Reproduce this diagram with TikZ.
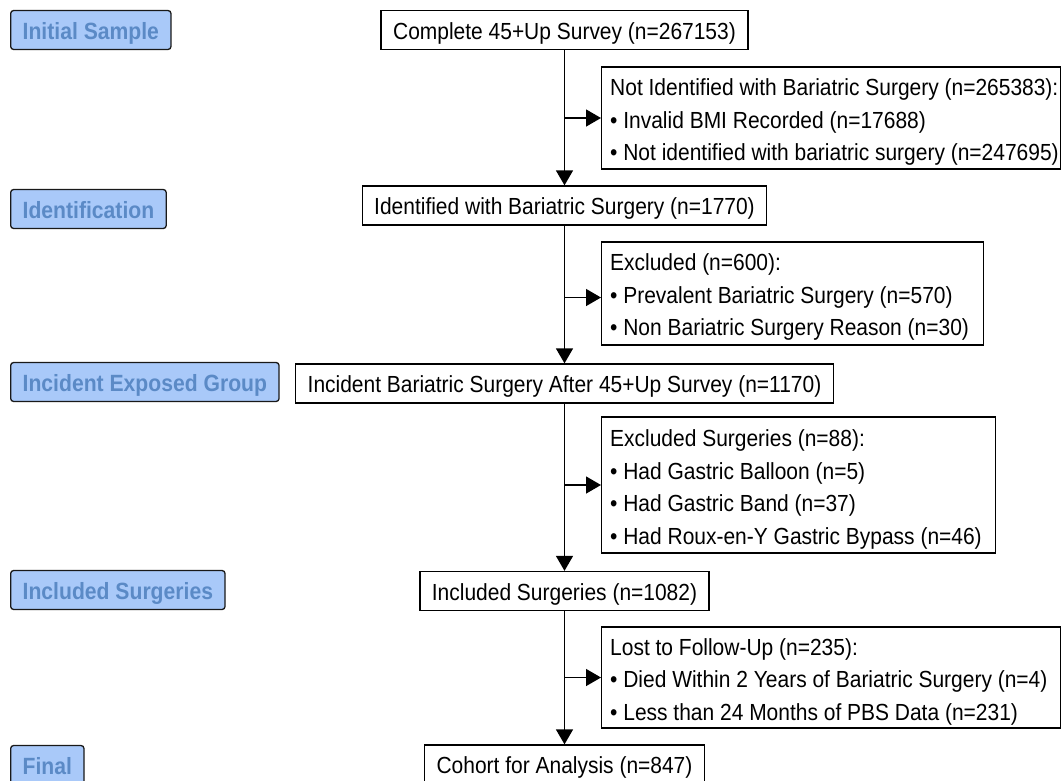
\documentclass[tikz,border=0pt]{standalone}
\usepackage{fontspec}
\setmainfont{Liberation Sans}[FakeStretch=0.9]
\usetikzlibrary{arrows.meta}
\definecolor{lblfill}{HTML}{A9C9F9}
\definecolor{lbltext}{HTML}{5B8AC6}
\tikzset{
  flow/.style={draw=black, line width=1.3pt, fill=white, font=\fontsize{23.3}{32.5}\selectfont,
    inner xsep=12pt, inner ysep=0pt, minimum height=39pt, text height=18pt, text depth=0pt},
  sidebox/.style={draw=black, line width=1.3pt, fill=white, inner sep=0pt, anchor=west},
  sidetext/.style={font=\fontsize{23.3}{32.5}\selectfont, align=left, anchor=north west, inner sep=0pt},
  stage/.style={draw=black!90, line width=1.3pt, rounded corners=3pt, fill=lblfill, text=lbltext,
    font=\bfseries\fontsize{23.5}{25}\selectfont, inner xsep=12pt, inner ysep=0pt, minimum height=39pt,
    anchor=west, text height=18pt, text depth=0pt},
  arr/.style={-{Triangle[length=15pt,width=17pt]}, line width=1.4pt}
}
\begin{document}
\begin{tikzpicture}[x=1pt,y=-1pt]
\clip (0,0) rectangle (1063,780);
\fill[white] (0,0) rectangle (1063,780);

% stage labels
\node[stage] (s1) at (10,30) {Initial Sample};
\node[stage] (s2) at (10,209) {Identification};
\node[stage] (s3) at (10,382) {Incident Exposed Group};
\node[stage] (s4) at (10,590) {Included Surgeries};
\node[stage] (s5) at (10,765) {Final};

% main flow
\node[flow, minimum width=365pt] (c1) at (564.5,30) {Complete 45+Up Survey (n=267153)};
\node[flow] (c2) at (564.5,205.5) {Identified with Bariatric Surgery (n=1770)};
\node[flow] (c3) at (564.5,383.5) {Incident Bariatric Surgery After 45+Up Survey (n=1170)};
\node[flow] (c4) at (564.5,591) {Included Surgeries (n=1082)};
\node[flow] (c5) at (564.5,764.5) {Cohort for Analysis (n=847)};

% side boxes
\node[sidebox, minimum width=459pt, minimum height=102pt] (x1) at (601,118) {};
\node[sidetext] (t1) at ([xshift=9pt,yshift=-12.5pt]x1.north west) {Not Identified with Bariatric Surgery (n=265383):\\%
• Invalid BMI Recorded (n=17688)\\• Not identified with bariatric surgery (n=247695)};

\node[sidebox, minimum width=382pt, minimum height=103pt] (x2) at (601,293.5) {};
\node[sidetext] (t2) at ([xshift=9pt,yshift=-12.5pt]x2.north west) {Excluded (n=600):\\%
• Prevalent Bariatric Surgery (n=570)\\• Non Bariatric Surgery Reason (n=30)};

\node[sidebox, minimum width=394pt, minimum height=136pt] (x3) at (601,485) {};
\node[sidetext] (t3) at ([xshift=9pt,yshift=-13.5pt]x3.north west) {Excluded Surgeries (n=88):\\%
• Had Gastric Balloon (n=5)\\• Had Gastric Band (n=37)\\• Had Roux-en-Y Gastric Bypass (n=46)};

\node[sidebox, minimum width=459pt, minimum height=101pt] (x4) at (601,677.5) {};
\node[sidetext] (t4) at ([xshift=9pt,yshift=-12pt]x4.north west) {Lost to Follow-Up (n=235):\\%
• Died Within 2 Years of Bariatric Surgery (n=4)\\• Less than 24 Months of PBS Data (n=231)};

% connectors
\draw[arr] (c1.south) -- (c2.north);
\draw[arr] (c2.south) -- (c3.north);
\draw[arr] (c3.south) -- (c4.north);
\draw[arr] (c4.south) -- (c5.north);

\coordinate (p1) at (x1.west);
\coordinate (p2) at ([yshift=-4pt]x2.west);
\coordinate (p3) at (x3.west);
\coordinate (p4) at (x4.west);
\coordinate (b1) at (c1.south |- p1);
\coordinate (b2) at (c2.south |- p2);
\coordinate (b3) at (c3.south |- p3);
\coordinate (b4) at (c4.south |- p4);
\draw[arr] (b1) -- (p1);
\draw[arr] (b2) -- (p2);
\draw[arr] (b3) -- (p3);
\draw[arr] (b4) -- (p4);
\end{tikzpicture}
\end{document}
